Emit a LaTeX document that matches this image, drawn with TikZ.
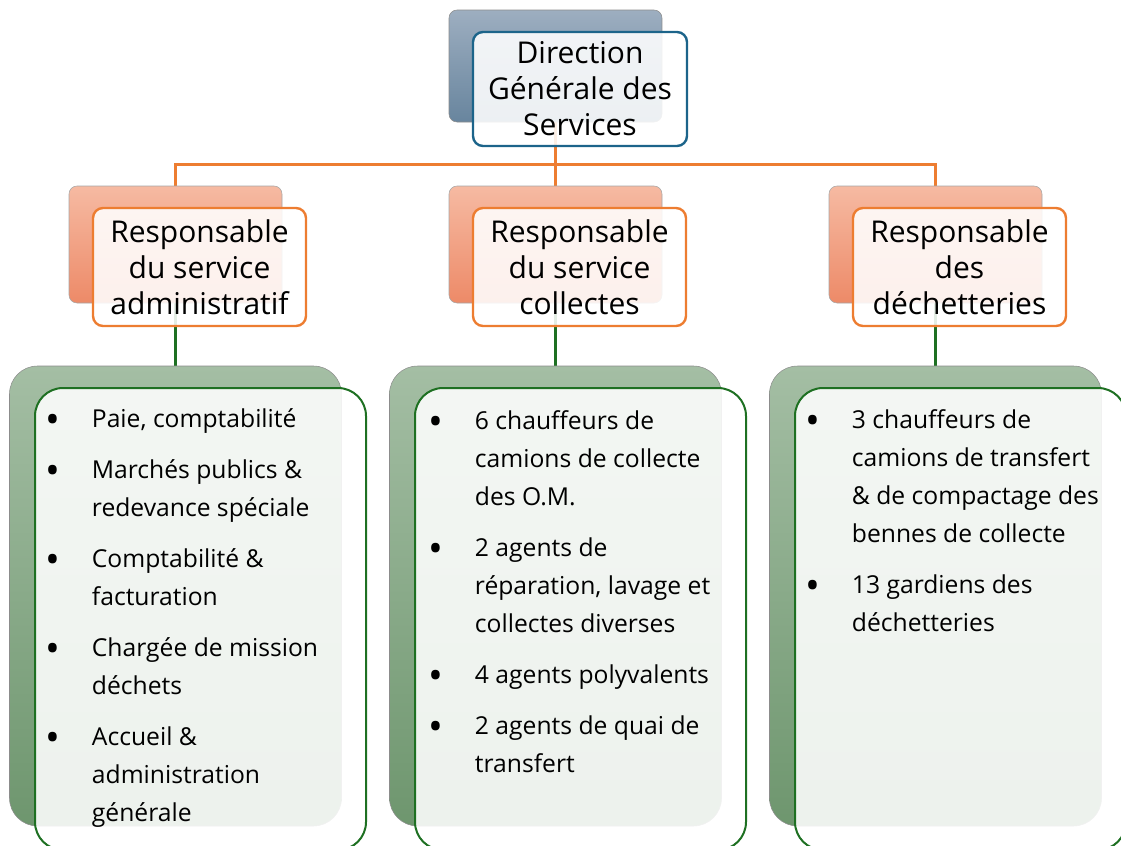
\documentclass[tikz,border=0pt]{standalone}
\usepackage{fontspec}
\usepackage{graphicx}
\setmainfont{Open Sans}
\usetikzlibrary{positioning,backgrounds}
\definecolor{dgsTop}{RGB}{157,174,192}
\definecolor{dgsBot}{RGB}{104,133,158}
\definecolor{dgsLine}{RGB}{28,100,138}
\definecolor{orgTop}{RGB}{246,186,162}
\definecolor{orgBot}{RGB}{237,138,104}
\definecolor{orgLine}{RGB}{237,125,49}
\definecolor{grnTop}{RGB}{164,190,164}
\definecolor{grnBot}{RGB}{110,150,110}
\definecolor{grnLine}{RGB}{30,112,34}
\newcommand{\boxfont}{\fontsize{22.5pt}{27pt}\selectfont}
\newcommand{\listfont}{\fontsize{18.5pt}{28.5pt}\selectfont}
\newcommand{\puce}{\raisebox{-4.5pt}{\scalebox{1.6}{\textbullet}}}
\tikzstyle{headback}=[
	rectangle,
	rounded corners=6pt,
	draw=black!45,
	top color=dgsTop,
	bottom color=dgsBot,
	minimum width=159.75pt,
	minimum height=84pt
]
\tikzstyle{head}=[
	rectangle,
	rounded corners=7.5pt,
	line width=1.8pt,
	draw=dgsLine,
	fill=white,
	fill opacity=0.88,
	text opacity=1,
	minimum width=160.5pt,
	minimum height=85.5pt,
	align=center,
	font=\boxfont
]
\tikzstyle{chiefback}=[
	headback,
	top color=orgTop,
	bottom color=orgBot,
	draw=black!35,
	minimum height=87.75pt
]
\tikzstyle{chief}=[
	head,
	draw=orgLine,
	minimum width=159.75pt,
	minimum height=88.5pt
]
\tikzstyle{teamback}=[
	rectangle,
	rounded corners=21pt,
	draw=black!45,
	top color=grnTop,
	bottom color=grnBot,
	minimum width=249pt,
	minimum height=345pt
]
\tikzstyle{team}=[
	rectangle,
	rounded corners=21pt,
	line width=1.5pt,
	draw=grnLine,
	fill=white,
	fill opacity=0.88,
	minimum width=248.25pt,
	minimum height=346.5pt
]
\tikzstyle{items}=[
	anchor=north west,
	inner sep=0pt,
	align=left,
	font=\listfont
]
\tikzstyle{orgedge}=[
	draw=orgLine,
	line width=2.25pt
]
\tikzstyle{grnedge}=[
	draw=grnLine,
	line width=2.25pt
]

\begin{document}
\begin{tikzpicture}[x=0.75pt,y=-0.75pt]
\useasboundingbox (0,0) rectangle (1121,846);
\clip (0,0) rectangle (1121,846);

\node [headback] (dgsBack) at (555.5,66) {};
\node [head] (dgs) at ([shift={(24.5,23)}]dgsBack.center) {Direction\\Générale des\\Services};

\node [chiefback] (admBack) at (175.5,244.5) {};
\node [chief] (adm) at ([shift={(24,22.5)}]admBack.center) {Responsable\\du service\\administratif};
\node [chiefback] (collBack) at (555.5,244.5) {};
\node [chief] (coll) at ([shift={(24,22.5)}]collBack.center) {Responsable\\du service\\collectes};
\node [chiefback] (dechBack) at (935.5,244.5) {};
\node [chief] (dech) at ([shift={(24,22.5)}]dechBack.center) {Responsable\\des\\déchetteries};

\node [teamback] (admTeamBack) at (175.5,596) {};
\node [team] (admTeam) at ([shift={(25,23)}]admTeamBack.center) {};
\node [teamback] (collTeamBack) at (555.5,596) {};
\node [team] (collTeam) at ([shift={(25,23)}]collTeamBack.center) {};
\node [teamback] (dechTeamBack) at (935.5,596) {};
\node [team] (dechTeam) at ([shift={(25,23)}]dechTeamBack.center) {};

\node [items] (admList) at ([shift={(11,14)}]admTeam.north west) {%
\begin{tabular}{@{}p{35pt}@{}l@{}}
\puce & Paie, comptabilité\\[9.75pt]
\puce & Marchés publics \&\\
 & redevance spéciale\\[9.75pt]
\puce & Comptabilité \&\\
 & facturation\\[9.75pt]
\puce & Chargée de mission\\
 & déchets\\[9.75pt]
\puce & Accueil \&\\
 & administration\\
 & générale
\end{tabular}};
\node [items] (collList) at ([shift={(14,16)}]collTeam.north west) {%
\begin{tabular}{@{}p{35pt}@{}l@{}}
\puce & 6 chauffeurs de\\
 & camions de collecte\\
 & des O.M.\\[9.75pt]
\puce & 2 agents de\\
 & réparation, lavage et\\
 & collectes diverses\\[9.75pt]
\puce & 4 agents polyvalents\\[9.75pt]
\puce & 2 agents de quai de\\
 & transfert
\end{tabular}};
\node [items] (dechList) at ([shift={(11,15)}]dechTeam.north west) {%
\begin{tabular}{@{}p{35pt}@{}l@{}}
\puce & 3 chauffeurs de\\
 & camions de transfert\\
 & \& de compactage des\\
 & bennes de collecte\\[9.75pt]
\puce & 13 gardiens des\\
 & déchetteries
\end{tabular}};

\begin{pgfonlayer}{background}
\coordinate (bus) at (555.5,164);
\draw [orgedge] (dgsBack) -- (collBack);
\draw [orgedge] (admBack.north) |- (bus) -| (dechBack.north);
\draw [grnedge] (admBack) -- (admTeamBack);
\draw [grnedge] (collBack) -- (collTeamBack);
\draw [grnedge] (dechBack) -- (dechTeamBack);
\end{pgfonlayer}
\end{tikzpicture}
\end{document}
